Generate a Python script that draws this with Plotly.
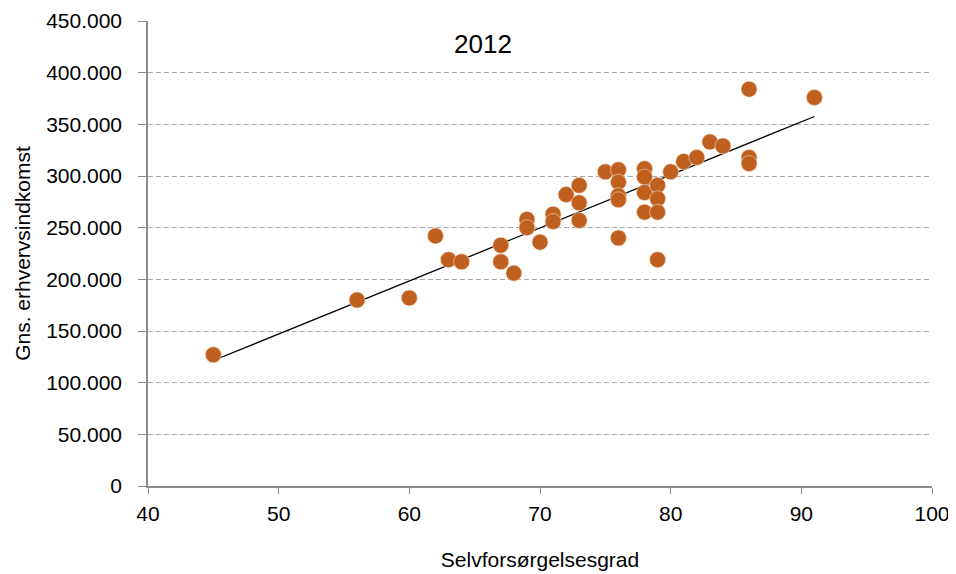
import numpy as np
import plotly.graph_objects as go

x_vals = [45, 56, 60, 62, 63, 64, 67, 67, 68, 69, 69, 70, 71, 71, 72, 73, 73, 73,
          75, 76, 76, 76, 76, 76, 78, 78, 78, 78, 79, 79, 79, 79, 80, 81, 82, 83,
          84, 86, 86, 86, 91]
y_vals = [127000, 180000, 182000, 242000, 219000, 217000, 233000, 217000, 206000,
          258000, 250000, 236000, 263000, 256000, 282000, 291000, 274000, 257000,
          304000, 306000, 294000, 281000, 277000, 240000, 307000, 299000, 284000,
          265000, 291000, 278000, 265000, 219000, 304000, 314000, 318000, 333000,
          329000, 384000, 318000, 312000, 376000]
chart_title = "2012"
x_title = "Selvforsørgelsesgrad"
y_title = "Gns. erhvervsindkomst"

slope, intercept = np.polyfit(x_vals, y_vals, 1)
tx = [min(x_vals), max(x_vals)]
ty = [slope * v + intercept for v in tx]

font = "Liberation Sans"
fig = go.Figure()
fig.add_trace(go.Scatter(x=tx, y=ty, mode="lines",
                         line=dict(color="black", width=1.3), hoverinfo="skip"))
fig.add_trace(go.Scatter(x=x_vals, y=y_vals, mode="markers",
                         marker=dict(size=16, color="#C0601F",
                                     line=dict(width=0.6, color="#F3D9C6"))))

fig.add_annotation(x=65.6, y=428000, text=chart_title, showarrow=False,
                   font=dict(family=font, size=26, color="black"))

fig.update_layout(
    width=956, height=574,
    margin=dict(l=140, r=32, t=13, b=96),
    plot_bgcolor="white", paper_bgcolor="white",
    showlegend=False,
    separators=",.",
    font=dict(family=font, size=21, color="black"),
)
fig.update_xaxes(range=[40, 100], dtick=10, tick0=40, showgrid=False, zeroline=False,
                 showline=True, linecolor="#8c8c8c", linewidth=1.5, automargin=False,
                 ticks="outside", ticklen=6, tickcolor="#8c8c8c",
                 tickfont=dict(size=21), ticklabelstandoff=2,
                 title=dict(text=x_title, font=dict(size=21), standoff=28))
fig.update_yaxes(range=[0, 450000], dtick=50000, showgrid=True, gridcolor="#a6a6a6",
                 griddash="5px,3px", gridwidth=1, zeroline=False, automargin=False,
                 showline=True, linecolor="#8c8c8c", linewidth=1.5,
                 ticks="outside", ticklen=8, tickcolor="#8c8c8c", tickformat=",d",
                 tickfont=dict(size=21), ticklabelstandoff=12,
                 title=dict(text=y_title, font=dict(size=21), standoff=10))

fig.write_html("out.html")
